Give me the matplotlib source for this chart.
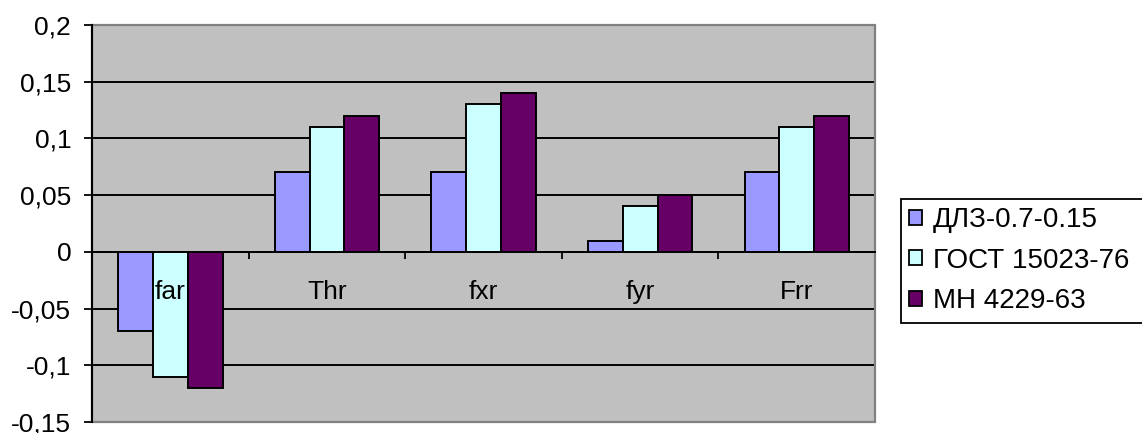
import matplotlib
matplotlib.use("Agg")
import matplotlib.pyplot as plt
from matplotlib.patches import Rectangle
import numpy as np

categories = ["far", "Thr", "fxr", "fyr", "Frr"]
series_names = ["ДЛЗ-0.7-0.15", "ГОСТ 15023-76", "МН 4229-63"]
dlz = [-0.07, 0.07, 0.07, 0.01, 0.07]
gost = [-0.11, 0.11, 0.13, 0.04, 0.11]
mn = [-0.12, 0.12, 0.14, 0.05, 0.12]
yticks = [-0.15, -0.1, -0.05, 0, 0.05, 0.1, 0.15, 0.2]
ytick_labels = ["-0,15", "-0,1", "-0,05", "0", "0,05", "0,1", "0,15", "0,2"]

colors = ["#9999FF", "#CCFFFF", "#660066"]

plt.rcParams['font.family'] = ['Liberation Sans', 'DejaVu Sans']

W, H = 1142, 433
fig = plt.figure(figsize=(W / 100, H / 100), dpi=100)
ax = fig.add_axes([92 / W, 1 - 422 / H, (875 - 92) / W, (422 - 25) / H])
ax.set_facecolor("#C0C0C0")

x = np.arange(len(categories))
bw = 1 / 4.5
for k, vals in enumerate([dlz, gost, mn]):
    ax.bar(x + (k - 1) * bw, vals, width=bw, color=colors[k], edgecolor="black",
           linewidth=1.4, label=series_names[k], zorder=3)

ax.set_xlim(-0.5, len(categories) - 0.5)
ax.set_ylim(-0.15, 0.2)
ax.set_yticks(yticks)
ax.set_yticklabels(ytick_labels)
ax.yaxis.grid(True, color="black", linewidth=1.4)
ax.set_axisbelow(True)

for s in ["top", "right"]:
    ax.spines[s].set_visible(False)
ax.spines["left"].set_color("black")
ax.spines["left"].set_linewidth(1.5)
ax.spines["left"].set_zorder(5)
ax.spines["bottom"].set_position(("data", 0))
ax.spines["bottom"].set_color("black")
ax.spines["bottom"].set_linewidth(1.4)
ax.spines["bottom"].set_zorder(4)

frame = Rectangle((0, 0), 1, 1, transform=ax.transAxes, fill=False,
                  edgecolor="#808080", linewidth=1.6, clip_on=False, zorder=1)
ax.add_patch(frame)

ax.set_xticks(np.arange(len(categories) - 1) + 0.5)
ax.set_xticklabels([])
ax.tick_params(axis="x", direction="out", length=5, width=1.3, color="black")
ax.tick_params(axis="y", direction="out", length=6, width=1.3, color="black",
               labelsize=19, pad=9)

for i, c in enumerate(categories):
    ax.annotate(c, xy=(i, 0), xytext=(0, -40), textcoords="offset pixels",
                ha="center", va="center", fontsize=19, zorder=6)

leg = fig.legend(loc="upper left",
                 bbox_to_anchor=(901 / W, 1 - 199 / H, (1170 - 901) / W, 0.0),
                 mode="expand", fontsize=20, frameon=True, fancybox=False,
                 edgecolor="black", handlelength=0.45, handleheight=0.45,
                 handletextpad=0.4, labelspacing=0.52, borderpad=0.3,
                 borderaxespad=0)
leg.get_frame().set_linewidth(1.3)
leg.get_frame().set_alpha(1)
for h in leg.legend_handles:
    h.set_linewidth(1.3)

fig.savefig("out.png", dpi=100)
